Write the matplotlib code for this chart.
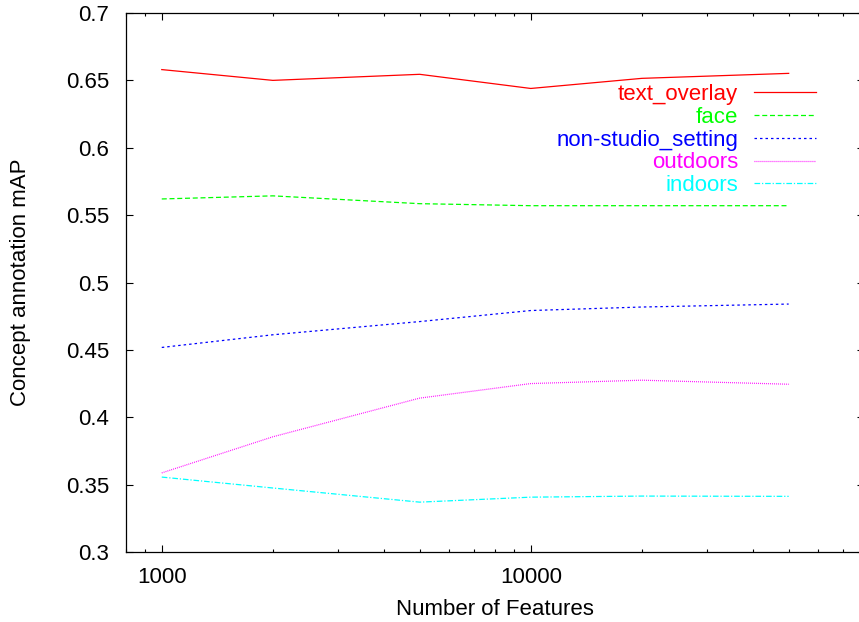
import numpy as np
import matplotlib
matplotlib.use("Agg")
import matplotlib.pyplot as plt
from matplotlib.ticker import LogLocator, FixedLocator, NullFormatter

plt.rcParams['font.family'] = ['Liberation Sans', 'DejaVu Sans']
plt.rcParams['font.size'] = 16

n_features = [1000, 2000, 5000, 10000, 20000, 50000]

text_overlay = [0.6580, 0.6500, 0.6545, 0.6440, 0.6515, 0.6552]
face = [0.5620, 0.5643, 0.5585, 0.5570, 0.5570, 0.5570]
non_studio_setting = [0.4518, 0.4612, 0.4710, 0.4792, 0.4818, 0.4840]
outdoors = [0.3587, 0.3855, 0.4142, 0.4250, 0.4275, 0.4245]
indoors = [0.3556, 0.3475, 0.3370, 0.3407, 0.3415, 0.3413]

series = [
    ("text_overlay", text_overlay, "#ff0000", "-"),
    ("face", face, "#00ff00", (0, (4.0, 2.2))),
    ("non-studio_setting", non_studio_setting, "#0000ff", (0, (2.0, 2.4))),
    ("outdoors", outdoors, "#ff00ff", (0, (0.7, 0.9))),
    ("indoors", indoors, "#00ffff", (0, (4.5, 1.5, 1.0, 1.5))),
]

fig = plt.figure(figsize=(8.59, 6.22), dpi=100)
ax = fig.add_axes([126 / 859, 1 - 552 / 622, (864 - 126) / 859, (552 - 13) / 622])

for name, vals, col, ls in series:
    ax.plot(n_features, vals, color=col, linestyle=ls, linewidth=0.9, label=name)

ax.set_xscale('log')
ax.set_xlim(800, 80000)
ax.set_ylim(0.3, 0.7)
ax.set_yticks(np.arange(0.3, 0.701, 0.05))
ax.set_yticklabels(["0.3", "0.35", "0.4", "0.45", "0.5", "0.55", "0.6", "0.65", "0.7"])
ax.xaxis.set_major_locator(FixedLocator([1000, 10000]))
ax.xaxis.set_minor_locator(LogLocator(base=10, subs=np.arange(2, 10)))
ax.xaxis.set_minor_formatter(NullFormatter())
ax.set_xticklabels(["1000", "10000"])

ax.tick_params(which='both', direction='in', top=True, right=True, width=0.8)
ax.tick_params(which='major', length=5, pad=11)
ax.tick_params(which='minor', length=2.5)
ax.tick_params(axis='y', pad=12)
for sp in ax.spines.values():
    sp.set_linewidth(0.9)

ax.set_xlabel("Number of Features", labelpad=8)
ax.set_ylabel("Concept annotation mAP", labelpad=25)

leg = ax.legend(loc='upper right', bbox_to_anchor=((816 - 126) / 738, (552 - 84) / 539),
                frameon=False, markerfirst=False, labelcolor='linecolor',
                handlelength=2.8, handletextpad=0.7, labelspacing=0.08,
                borderaxespad=0, borderpad=0)

fig.savefig("out.png", dpi=100)
